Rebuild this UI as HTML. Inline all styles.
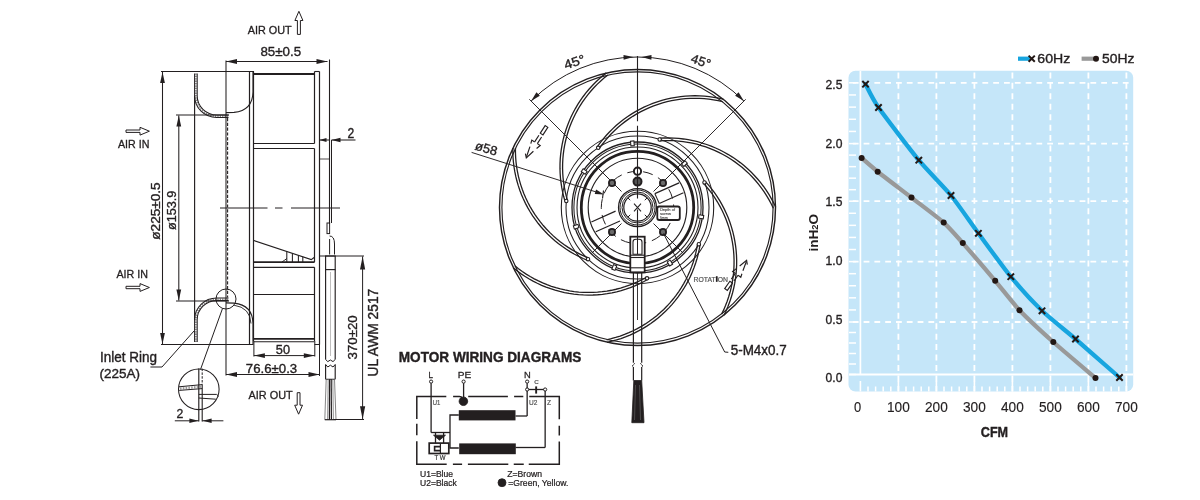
<!DOCTYPE html>
<html><head><meta charset="utf-8"><style>
html,body{margin:0;padding:0;background:#fff;width:1200px;height:500px;overflow:hidden;}
svg{display:block;font-family:"Liberation Sans",sans-serif;will-change:transform;}
</style></head><body>
<svg width="1200" height="500" viewBox="0 0 1200 500">
<rect width="1200" height="500" fill="#fff"/>
<text x="247.7" y="34" font-size="11.4" font-weight="normal" fill="#231f20" stroke="#231f20" stroke-width="0.32" text-anchor="start" textLength="44" lengthAdjust="spacingAndGlyphs" >AIR OUT</text>
<path d="M297.4,34.4 L297.4,20.5 L294.9,20.5 L298.9,11.3 L302.9,20.5 L300.4,20.5 L300.4,34.4 Z" stroke="#231f20" stroke-width="1.0" fill="#fff" />
<text x="260.4" y="56.3" font-size="12.6" font-weight="normal" fill="#231f20" stroke="#231f20" stroke-width="0.35" text-anchor="start" textLength="40.7" lengthAdjust="spacingAndGlyphs" >85±0.5</text>
<line x1="226" y1="61.5" x2="327.5" y2="61.5" stroke="#231f20" stroke-width="1.0" />
<path d="M226,61.5 L237,59.1 L237,63.9 Z" fill="#231f20" stroke="none"/>
<path d="M327.5,61.5 L316.5,63.9 L316.5,59.1 Z" fill="#231f20" stroke="none"/>
<line x1="226" y1="60.5" x2="226" y2="375.5" stroke="#231f20" stroke-width="1.05" />
<line x1="329.5" y1="59.5" x2="329.5" y2="224" stroke="#231f20" stroke-width="1.1" />
<line x1="161" y1="71.5" x2="254" y2="71.5" stroke="#231f20" stroke-width="1.15" />
<line x1="162.5" y1="72" x2="162.5" y2="344" stroke="#231f20" stroke-width="1.05" />
<path d="M162.5,72 L164.9,83 L160.1,83 Z" fill="#231f20" stroke="none"/>
<path d="M162.5,344 L160.1,333 L164.9,333 Z" fill="#231f20" stroke="none"/>
<line x1="178.8" y1="115.6" x2="178.8" y2="300.4" stroke="#231f20" stroke-width="1.05" />
<path d="M178.8,115.6 L181.2,126.6 L176.4,126.6 Z" fill="#231f20" stroke="none"/>
<path d="M178.8,300.4 L176.4,289.4 L181.2,289.4 Z" fill="#231f20" stroke="none"/>
<line x1="176" y1="115" x2="229" y2="115" stroke="#231f20" stroke-width="1.05" />
<line x1="176" y1="301" x2="229" y2="301" stroke="#231f20" stroke-width="1.05" />
<path d="M161,344.5 L253.5,344.5 M314.5,344.5 L319.5,344.5" stroke="#231f20" stroke-width="1.2" fill="none" />
<text transform="translate(160.3,239.7) rotate(-90)" font-size="12.2" font-weight="normal" fill="#231f20" stroke="#231f20" stroke-width="0.34" textLength="57.4" lengthAdjust="spacingAndGlyphs">ø225±0.5</text>
<text transform="translate(175.5,230) rotate(-90)" font-size="12.2" font-weight="normal" fill="#231f20" stroke="#231f20" stroke-width="0.34" textLength="39.4" lengthAdjust="spacingAndGlyphs">ø153.9</text>
<line x1="194.6" y1="96" x2="194.6" y2="320" stroke="#231f20" stroke-width="1.15" />
<path d="M194.6,73.4 L194.6,96 A22,21.5 0 0 0 216.6,117.5 L228.5,117.5" stroke="#231f20" stroke-width="1.05" fill="none" />
<path d="M197.2,73.4 L197.2,95.7 A19.6,19.2 0 0 0 216.8,114.9 L228.5,114.9" stroke="#231f20" stroke-width="1.05" fill="none" />
<path d="M195.9,73.4 L195.9,95.9 A20.8,20.3 0 0 0 216.7,116.2 L228.5,116.2" stroke="#231f20" stroke-width="1.7" fill="none" stroke-dasharray="1.3 1.1" opacity="0.55"/>
<path d="M194.6,342.1 L194.6,319.5 A22,21.5 0 0 1 216.6,298 L228.5,298" stroke="#231f20" stroke-width="1.05" fill="none" />
<path d="M197.2,342.1 L197.2,319.8 A19.6,19.2 0 0 1 216.8,300.6 L228.5,300.6" stroke="#231f20" stroke-width="1.05" fill="none" />
<path d="M195.9,342.1 L195.9,319.6 A20.8,20.3 0 0 1 216.7,299.3 L228.5,299.3" stroke="#231f20" stroke-width="1.7" fill="none" stroke-dasharray="1.3 1.1" opacity="0.55"/>
<line x1="227.6" y1="118" x2="227.6" y2="297.5" stroke="#231f20" stroke-width="1.1" stroke-dasharray="3.2 1.6"/>
<path d="M226,112.6 L234,112.4 Q252.6,110.5 253,92 L253,71" stroke="#231f20" stroke-width="1.1" fill="none" />
<path d="M226,302.9 L234,303.1 Q252.6,305 253,323.5 L253,344" stroke="#231f20" stroke-width="1.1" fill="none" />
<path d="M234,305.2 Q250.2,307.5 251,323.5" stroke="#231f20" stroke-width="0.9" fill="none" />
<line x1="249.5" y1="71.5" x2="249.5" y2="344.5" stroke="#231f20" stroke-width="1.2" />
<line x1="253.5" y1="71.5" x2="253.5" y2="341" stroke="#231f20" stroke-width="1.2" />
<path d="M314.5,71.5 L314.5,143.5 M314.5,148.5 L314.5,262.2 M314.5,267.3 L314.5,341" stroke="#231f20" stroke-width="1.2" fill="none" />
<line x1="319.5" y1="71.5" x2="319.5" y2="344.5" stroke="#231f20" stroke-width="1.2" />
<line x1="314.5" y1="71.5" x2="319.5" y2="71.5" stroke="#231f20" stroke-width="1.1" />
<line x1="253.5" y1="74" x2="314.5" y2="74" stroke="#231f20" stroke-width="1.9" />
<line x1="253.5" y1="338.8" x2="314.5" y2="338.8" stroke="#231f20" stroke-width="1.8" />
<line x1="253.5" y1="341.8" x2="314.5" y2="341.8" stroke="#231f20" stroke-width="1.1" />
<line x1="253.5" y1="143.5" x2="314.5" y2="143.5" stroke="#231f20" stroke-width="1.15" />
<line x1="253.5" y1="148.5" x2="314.5" y2="148.5" stroke="#231f20" stroke-width="1.15" />
<line x1="253.5" y1="262.2" x2="314.5" y2="262.2" stroke="#231f20" stroke-width="1.7" />
<line x1="253.5" y1="267.3" x2="314.5" y2="267.3" stroke="#231f20" stroke-width="1.15" />
<line x1="253.5" y1="294.5" x2="314.5" y2="294.5" stroke="#231f20" stroke-width="1.1" />
<path d="M253.5,240.4 L311.2,259.6 L314.5,257.2" stroke="#231f20" stroke-width="1.15" fill="none" />
<line x1="286.8" y1="251.48" x2="286.8" y2="262" stroke="#231f20" stroke-width="1.05" />
<line x1="292.4" y1="253.34" x2="292.4" y2="262" stroke="#231f20" stroke-width="1.05" />
<line x1="298.4" y1="255.34" x2="298.4" y2="262" stroke="#231f20" stroke-width="1.05" />
<line x1="302.8" y1="256.8" x2="302.8" y2="262" stroke="#231f20" stroke-width="1.05" />
<path d="M282,262 Q285,260 286.8,258.5" stroke="#231f20" stroke-width="1.0" fill="none" />
<line x1="220" y1="208" x2="340" y2="208" stroke="#231f20" stroke-width="1.0" stroke-dasharray="47.5 7.5 7.5 8.5 60"/>
<line x1="331.5" y1="140" x2="331.5" y2="223" stroke="#231f20" stroke-width="1.0" />
<line x1="319.3" y1="159" x2="329.5" y2="159" stroke="#231f20" stroke-width="0.8" />
<rect x="327" y="223" width="2.6" height="10.6" stroke="#231f20" stroke-width="1.0" fill="none" />
<path d="M329.6,236 Q334.5,236 334.5,244 L334.5,254.5 M329.6,239 L329.6,254.5" stroke="#231f20" stroke-width="1.0" fill="none" />
<text x="347.5" y="137.75" font-size="14.2" font-weight="normal" fill="#231f20" stroke="#231f20" stroke-width="0.40" text-anchor="start" textLength="6.75" lengthAdjust="spacingAndGlyphs" >2</text>
<line x1="319" y1="140" x2="329.5" y2="140" stroke="#231f20" stroke-width="1.0" />
<path d="M319.5,140 L326.5,138 L326.5,142 Z" fill="#231f20" stroke="none"/>
<line x1="331.5" y1="140" x2="355.5" y2="140" stroke="#231f20" stroke-width="1.05" />
<path d="M331.5,140 L340.5,137.7 L340.5,142.3 Z" fill="#231f20" stroke="none"/>
<rect x="325.6" y="256" width="9.6" height="13.6" stroke="#231f20" stroke-width="1.15" fill="none" />
<line x1="325.6" y1="269.6" x2="325.6" y2="359.5" stroke="#231f20" stroke-width="1.15" />
<line x1="335.2" y1="269.6" x2="335.2" y2="359.5" stroke="#231f20" stroke-width="1.15" />
<line x1="330.4" y1="272" x2="330.4" y2="356" stroke="#231f20" stroke-width="0.6" opacity="0.55"/>
<path d="M325.6,364.5 L325.6,379.2 M335.2,364.5 L335.2,379.2 M325.6,379.2 L335.2,379.2" stroke="#231f20" stroke-width="1.15" fill="none" />
<path d="M325.6,359.5 L327.8,361.6 L330.4,360 L333,361.6 L335.2,359.5 M325.6,364.5 L327.8,367 L330.4,365.2 L333,367 L335.2,364.5" stroke="#231f20" stroke-width="1.0" fill="none" />
<line x1="326.2" y1="379.2" x2="324.8" y2="419.7" stroke="#666" stroke-width="0.8" />
<line x1="328.2" y1="379.2" x2="327.6" y2="419.7" stroke="#777" stroke-width="0.8" />
<line x1="329.6" y1="379.2" x2="329.4" y2="419.7" stroke="#231f20" stroke-width="1.2" />
<line x1="331.2" y1="379.2" x2="331.4" y2="419.7" stroke="#231f20" stroke-width="1.2" />
<line x1="332.8" y1="379.2" x2="333.4" y2="419.7" stroke="#777" stroke-width="0.8" />
<line x1="334.5" y1="379.2" x2="336" y2="419.7" stroke="#666" stroke-width="0.8" />
<path d="M324.8,419.7 L336,419.7" stroke="#231f20" stroke-width="1.2" fill="none" />
<line x1="319.5" y1="256" x2="364" y2="256" stroke="#231f20" stroke-width="1.0" />
<line x1="333.6" y1="419.5" x2="364" y2="419.5" stroke="#231f20" stroke-width="1.0" />
<line x1="362.6" y1="256.4" x2="362.6" y2="419.2" stroke="#231f20" stroke-width="1.0" />
<path d="M362.6,256.4 L365.2,269.4 L360,269.4 Z" fill="#231f20" stroke="none"/>
<path d="M362.6,419.2 L360,406.2 L365.2,406.2 Z" fill="#231f20" stroke="none"/>
<text transform="translate(356.6,359.6) rotate(-90)" font-size="13" font-weight="normal" fill="#231f20" stroke="#231f20" stroke-width="0.36" textLength="44.4" lengthAdjust="spacingAndGlyphs">370±20</text>
<text transform="translate(377.6,376.4) rotate(-90)" font-size="13.8" font-weight="normal" fill="#231f20" stroke="#231f20" stroke-width="0.39" textLength="87.6" lengthAdjust="spacingAndGlyphs">UL AWM 2517</text>
<text x="100" y="361.6" font-size="14" font-weight="normal" fill="#231f20" stroke="#231f20" stroke-width="0.39" text-anchor="start" textLength="57" lengthAdjust="spacingAndGlyphs" >Inlet Ring</text>
<text x="99.5" y="377.8" font-size="13.2" font-weight="normal" fill="#231f20" stroke="#231f20" stroke-width="0.37" text-anchor="start" textLength="40.5" lengthAdjust="spacingAndGlyphs" >(225A)</text>
<path d="M150.4,367 L162,367 L194,331" stroke="#231f20" stroke-width="1.0" fill="none" />
<circle cx="226" cy="299" r="10" stroke="#231f20" stroke-width="1.0" fill="none" />
<line x1="222.5" y1="308.5" x2="200.5" y2="369.5" stroke="#231f20" stroke-width="1.0" />
<circle cx="198.8" cy="389.3" r="20.3" stroke="#231f20" stroke-width="1.05" fill="none" />
<line x1="198.8" y1="368.6" x2="198.8" y2="421.5" stroke="#231f20" stroke-width="1.15" />
<line x1="202.2" y1="368.6" x2="202.2" y2="384.5" stroke="#231f20" stroke-width="1.0" stroke-dasharray="2.5 1.3"/>
<line x1="202.2" y1="384.5" x2="202.2" y2="421.5" stroke="#231f20" stroke-width="1.1" />
<path d="M178.9,386.8 L202.2,384.6 M179.2,390.4 L202.2,388.6" stroke="#231f20" stroke-width="1.0" fill="none" />
<path d="M180,388.6 L202,386.6" stroke="#231f20" stroke-width="2.2" fill="none" stroke-dasharray="1.6 1.2" opacity="0.45"/>
<path d="M198.8,394.4 L216.5,394.4 Q218,395 218.4,396.5 M198.8,398 L215.8,399.2" stroke="#231f20" stroke-width="1.0" fill="none" />
<text x="176.6" y="417.8" font-size="12" font-weight="normal" fill="#231f20" stroke="#231f20" stroke-width="0.34" text-anchor="start" textLength="6.8" lengthAdjust="spacingAndGlyphs" >2</text>
<line x1="174.8" y1="420.8" x2="198.8" y2="420.8" stroke="#231f20" stroke-width="1.0" />
<path d="M198.4,420.8 L189.4,423 L189.4,418.6 Z" fill="#231f20" stroke="none"/>
<line x1="202.2" y1="420.8" x2="223.4" y2="420.8" stroke="#231f20" stroke-width="1.0" />
<path d="M202.6,420.8 L211.6,418.6 L211.6,423 Z" fill="#231f20" stroke="none"/>
<text x="117.9" y="147.6" font-size="11.2" font-weight="normal" fill="#231f20" stroke="#231f20" stroke-width="0.31" text-anchor="start" textLength="31.5" lengthAdjust="spacingAndGlyphs" >AIR IN</text>
<path d="M126,130 L140,130 L140,127.3 L149.4,131.2 L140,135.1 L140,132.4 L126,132.4 Z" stroke="#231f20" stroke-width="1.0" fill="#fff" />
<text x="116.4" y="277.6" font-size="11.2" font-weight="normal" fill="#231f20" stroke="#231f20" stroke-width="0.31" text-anchor="start" textLength="31.5" lengthAdjust="spacingAndGlyphs" >AIR IN</text>
<path d="M126,286.3 L140,286.3 L140,283.6 L149.4,287.5 L140,291.4 L140,288.7 L126,288.7 Z" stroke="#231f20" stroke-width="1.0" fill="#fff" />
<text x="248.5" y="398.8" font-size="10.8" font-weight="normal" fill="#231f20" stroke="#231f20" stroke-width="0.30" text-anchor="start" textLength="44.2" lengthAdjust="spacingAndGlyphs" >AIR OUT</text>
<path d="M297.2,392.7 L297.2,405.2 L294.7,405.2 L298.6,414.2 L302.5,405.2 L300,405.2 L300,392.7 Z" stroke="#231f20" stroke-width="1.0" fill="#fff" />
<text x="275.8" y="353.6" font-size="12" font-weight="normal" fill="#231f20" stroke="#231f20" stroke-width="0.34" text-anchor="start" textLength="14.2" lengthAdjust="spacingAndGlyphs" >50</text>
<line x1="253.9" y1="355.6" x2="314.8" y2="355.6" stroke="#231f20" stroke-width="1.0" />
<path d="M253.9,355.6 L264.9,353.2 L264.9,358 Z" fill="#231f20" stroke="none"/>
<path d="M314.8,355.6 L303.8,358 L303.8,353.2 Z" fill="#231f20" stroke="none"/>
<line x1="253.9" y1="341" x2="253.9" y2="356.5" stroke="#231f20" stroke-width="1.0" />
<line x1="314.8" y1="341" x2="314.8" y2="356.5" stroke="#231f20" stroke-width="1.0" />
<text x="245.8" y="372.5" font-size="12.8" font-weight="normal" fill="#231f20" stroke="#231f20" stroke-width="0.36" text-anchor="start" textLength="51.4" lengthAdjust="spacingAndGlyphs" >76.6±0.3</text>
<line x1="226" y1="374.5" x2="319.5" y2="374.5" stroke="#231f20" stroke-width="1.0" />
<path d="M226,374.5 L237,372.1 L237,376.9 Z" fill="#231f20" stroke="none"/>
<path d="M319.5,374.5 L308.5,376.9 L308.5,372.1 Z" fill="#231f20" stroke="none"/>
<line x1="319.5" y1="344" x2="319.5" y2="376" stroke="#231f20" stroke-width="1.0" />
<circle cx="637.5" cy="207.5" r="138" stroke="#231f20" stroke-width="1.45" fill="none" />
<circle cx="637.5" cy="207.5" r="135.6" stroke="#231f20" stroke-width="1.15" fill="none" />
<circle cx="637.5" cy="207.5" r="76.2" stroke="#231f20" stroke-width="1.1" fill="none" />
<circle cx="637.5" cy="207.5" r="71.5" stroke="#231f20" stroke-width="1.05" fill="none" />
<circle cx="637.5" cy="207.5" r="65.5" stroke="#231f20" stroke-width="1.3" fill="none" />
<circle cx="637.5" cy="207.5" r="63.6" stroke="#231f20" stroke-width="1.05" fill="none" />
<circle cx="637.5" cy="207.5" r="60.5" stroke="#231f20" stroke-width="1.1" fill="none" />
<circle cx="637.5" cy="207.5" r="49.3" stroke="#231f20" stroke-width="1.15" fill="none" />
<circle cx="637.5" cy="207.5" r="56.2" stroke="#231f20" stroke-width="2.8" fill="none" />
<circle cx="637.5" cy="207.5" r="36.2" stroke="#231f20" stroke-width="1.0" fill="none" stroke-dasharray="10 6"/>
<circle cx="637.5" cy="207.5" r="19" stroke="#231f20" stroke-width="1.25" fill="none" />
<circle cx="637.5" cy="207.5" r="17.5" stroke="#231f20" stroke-width="1.0" fill="none" />
<circle cx="637.5" cy="207.5" r="15.5" stroke="#231f20" stroke-width="1.0" fill="none" />
<circle cx="637.5" cy="207.5" r="13.7" stroke="#231f20" stroke-width="1.2" fill="none" />
<line x1="644.78" y1="214.78" x2="647.05" y2="217.05" stroke="#231f20" stroke-width="1.0" />
<line x1="630.22" y1="214.78" x2="627.95" y2="217.05" stroke="#231f20" stroke-width="1.0" />
<line x1="630.22" y1="200.22" x2="627.95" y2="197.95" stroke="#231f20" stroke-width="1.0" />
<line x1="644.78" y1="200.22" x2="647.05" y2="197.95" stroke="#231f20" stroke-width="1.0" />
<rect x="699.43" y="214.38" width="3.4" height="4.8" fill="#fff" stroke="#231f20" stroke-width="1.05" transform="rotate(98.3 701.13 216.78)"/>
<rect x="668.21" y="260.63" width="3.4" height="4.8" fill="#fff" stroke="#231f20" stroke-width="1.05" transform="rotate(149.7 669.91 263.03)"/>
<rect x="612.59" y="265.07" width="3.4" height="4.8" fill="#fff" stroke="#231f20" stroke-width="1.05" transform="rotate(201.2 614.29 267.47)"/>
<rect x="574.45" y="224.34" width="3.4" height="4.8" fill="#fff" stroke="#231f20" stroke-width="1.05" transform="rotate(252.6 576.15 226.74)"/>
<rect x="582.5" y="169.13" width="3.4" height="4.8" fill="#fff" stroke="#231f20" stroke-width="1.05" transform="rotate(304.0 584.2 171.53)"/>
<rect x="630.69" y="141" width="3.4" height="4.8" fill="#fff" stroke="#231f20" stroke-width="1.05" transform="rotate(355.4 632.39 143.4)"/>
<rect x="682.73" y="161.14" width="3.4" height="4.8" fill="#fff" stroke="#231f20" stroke-width="1.05" transform="rotate(406.9 684.43 163.54)"/>
<path d="M567.54,200.64 L566.27,196.14 L565.19,191.58 L564.3,186.99 L563.58,182.36 L563.06,177.71 L562.72,173.04 L562.58,168.36 L562.62,163.68 L562.85,159.01 L563.26,154.34 L563.87,149.7 L564.66,145.09 L565.64,140.51 L566.8,135.97 L568.14,131.49 L569.66,127.06 L571.36,122.7 L573.23,118.41 L575.28,114.2 L577.49,110.08 L579.87,106.04 L582.4,102.11 L585.1,98.28 L587.95,94.56 L590.94,90.97 L594.07,87.49 L597.35,84.14 L600.75,80.93 L604.29,77.86 L607.94,74.94" stroke="#231f20" stroke-width="1.3" fill="none" />
<path d="M565.05,201.4 L563.76,196.79 L562.65,192.13 L561.73,187.43 L561.01,182.7 L560.47,177.95 L560.13,173.18 L559.98,168.39 L560.02,163.61 L560.25,158.83 L560.68,154.06 L561.3,149.31 L562.11,144.6 L563.1,139.92 L564.29,135.28 L565.66,130.69 L567.22,126.17 L568.96,121.71 L570.87,117.32 L572.96,113.02 L575.22,108.8 L577.65,104.68 L580.25,100.66 L583,96.74 L585.91,92.94 L588.97,89.26 L592.18,85.71 L595.53,82.29 L599.01,79.01 L602.62,75.87 L606.36,72.87" stroke="#231f20" stroke-width="1.3" fill="none" />
<circle cx="566.29" cy="201.02" r="1.7" stroke="#231f20" stroke-width="1.1" fill="#fff" />
<path d="M599.24,148.53 L601.98,144.73 L604.86,141.04 L607.9,137.48 L611.07,134.04 L614.38,130.73 L617.82,127.55 L621.39,124.52 L625.07,121.63 L628.87,118.9 L632.77,116.32 L636.78,113.9 L640.88,111.64 L645.07,109.55 L649.34,107.63 L653.68,105.88 L658.09,104.31 L662.56,102.92 L667.08,101.71 L671.65,100.68 L676.25,99.84 L680.89,99.18 L685.55,98.71 L690.22,98.43 L694.9,98.34 L699.58,98.44 L704.25,98.72 L708.91,99.2 L713.54,99.86 L718.15,100.7 L722.71,101.74" stroke="#231f20" stroke-width="1.3" fill="none" />
<path d="M597.1,147.05 L599.9,143.17 L602.85,139.4 L605.95,135.75 L609.19,132.24 L612.58,128.85 L616.1,125.61 L619.74,122.51 L623.51,119.55 L627.39,116.76 L631.38,114.12 L635.48,111.64 L639.67,109.34 L643.95,107.2 L648.32,105.23 L652.76,103.45 L657.27,101.84 L661.84,100.42 L666.46,99.18 L671.13,98.13 L675.84,97.27 L680.58,96.6 L685.34,96.12 L690.12,95.84 L694.9,95.74 L699.69,95.84 L704.46,96.13 L709.22,96.62 L713.96,97.29 L718.67,98.16 L723.34,99.21" stroke="#231f20" stroke-width="1.3" fill="none" />
<circle cx="598.17" cy="147.79" r="1.7" stroke="#231f20" stroke-width="1.1" fill="#fff" />
<path d="M659.75,140.82 L664.43,140.59 L669.11,140.55 L673.79,140.7 L678.46,141.03 L683.11,141.56 L687.73,142.27 L692.33,143.16 L696.88,144.24 L701.39,145.51 L705.84,146.95 L710.23,148.58 L714.56,150.37 L718.8,152.34 L722.97,154.49 L727.04,156.79 L731.02,159.26 L734.89,161.89 L738.66,164.67 L742.31,167.6 L745.84,170.67 L749.24,173.89 L752.51,177.24 L755.64,180.72 L758.63,184.32 L761.47,188.04 L764.16,191.87 L766.7,195.8 L769.07,199.84 L771.28,203.97 L773.32,208.18" stroke="#231f20" stroke-width="1.3" fill="none" />
<path d="M659.57,138.22 L664.35,137.99 L669.14,137.95 L673.92,138.1 L678.7,138.44 L683.45,138.98 L688.18,139.71 L692.88,140.62 L697.54,141.73 L702.14,143.02 L706.7,144.5 L711.18,146.16 L715.6,147.99 L719.94,150.01 L724.2,152.2 L728.36,154.56 L732.43,157.08 L736.39,159.77 L740.24,162.61 L743.97,165.6 L747.58,168.75 L751.06,172.04 L754.4,175.46 L757.61,179.02 L760.66,182.7 L763.57,186.5 L766.32,190.42 L768.91,194.44 L771.34,198.57 L773.6,202.79 L775.68,207.09" stroke="#231f20" stroke-width="1.3" fill="none" />
<circle cx="659.66" cy="139.52" r="1.7" stroke="#231f20" stroke-width="1.1" fill="#fff" />
<path d="M703.51,183.32 L706.6,186.83 L709.55,190.47 L712.35,194.22 L715,198.08 L717.49,202.04 L719.82,206.1 L721.99,210.25 L723.98,214.49 L725.8,218.8 L727.45,223.18 L728.92,227.63 L730.21,232.13 L731.31,236.68 L732.24,241.27 L732.97,245.89 L733.52,250.54 L733.88,255.2 L734.06,259.88 L734.04,264.56 L733.84,269.24 L733.45,273.9 L732.87,278.55 L732.1,283.17 L731.15,287.75 L730.01,292.29 L728.69,296.78 L727.2,301.22 L725.52,305.59 L723.67,309.89 L721.65,314.11" stroke="#231f20" stroke-width="1.3" fill="none" />
<path d="M705.42,181.56 L708.59,185.16 L711.6,188.87 L714.47,192.7 L717.18,196.65 L719.72,200.7 L722.1,204.86 L724.32,209.1 L726.35,213.43 L728.22,217.84 L729.9,222.32 L731.4,226.86 L732.72,231.46 L733.85,236.11 L734.79,240.8 L735.55,245.53 L736.11,250.28 L736.48,255.05 L736.66,259.84 L736.64,264.62 L736.43,269.4 L736.03,274.17 L735.44,278.92 L734.66,283.64 L733.68,288.33 L732.52,292.97 L731.17,297.57 L729.64,302.1 L727.93,306.57 L726.04,310.96 L723.97,315.28" stroke="#231f20" stroke-width="1.3" fill="none" />
<circle cx="704.47" cy="182.44" r="1.7" stroke="#231f20" stroke-width="1.1" fill="#fff" />
<path d="M697.56,244.03 L696.74,248.64 L695.74,253.21 L694.55,257.74 L693.19,262.22 L691.64,266.64 L689.92,270.99 L688.02,275.27 L685.96,279.47 L683.72,283.58 L681.32,287.6 L678.76,291.52 L676.05,295.34 L673.18,299.04 L670.17,302.62 L667.01,306.08 L663.72,309.41 L660.3,312.6 L656.75,315.65 L653.08,318.56 L649.3,321.31 L645.4,323.92 L641.41,326.36 L637.32,328.64 L633.15,330.75 L628.89,332.7 L624.55,334.47 L620.15,336.06 L615.69,337.48 L611.18,338.71 L606.61,339.76" stroke="#231f20" stroke-width="1.3" fill="none" />
<path d="M700.13,244.43 L699.29,249.15 L698.27,253.82 L697.06,258.45 L695.66,263.03 L694.08,267.55 L692.32,272 L690.38,276.37 L688.26,280.67 L685.98,284.87 L683.53,288.98 L680.91,292.99 L678.13,296.89 L675.2,300.67 L672.12,304.33 L668.9,307.87 L665.53,311.27 L662.03,314.53 L658.4,317.66 L654.65,320.63 L650.78,323.45 L646.81,326.11 L642.72,328.6 L638.54,330.93 L634.27,333.1 L629.92,335.08 L625.49,336.89 L620.99,338.52 L616.43,339.97 L611.81,341.23 L607.15,342.31" stroke="#231f20" stroke-width="1.3" fill="none" />
<circle cx="698.84" cy="244.23" r="1.7" stroke="#231f20" stroke-width="1.1" fill="#fff" />
<path d="M646.38,277.23 L642.27,279.47 L638.07,281.54 L633.79,283.43 L629.44,285.16 L625.02,286.7 L620.54,288.07 L616.02,289.25 L611.44,290.26 L606.83,291.07 L602.19,291.7 L597.53,292.15 L592.86,292.4 L588.18,292.47 L583.5,292.35 L578.83,292.04 L574.18,291.54 L569.55,290.85 L564.95,289.98 L560.39,288.92 L555.87,287.68 L551.41,286.26 L547.01,284.67 L542.68,282.89 L538.42,280.94 L534.25,278.83 L530.16,276.54 L526.17,274.09 L522.28,271.49 L518.5,268.73 L514.84,265.82" stroke="#231f20" stroke-width="1.3" fill="none" />
<path d="M647.67,279.49 L643.47,281.78 L639.17,283.89 L634.8,285.83 L630.35,287.59 L625.83,289.17 L621.25,290.57 L616.62,291.78 L611.95,292.81 L607.24,293.64 L602.49,294.29 L597.73,294.74 L592.95,295 L588.16,295.07 L583.38,294.94 L578.61,294.63 L573.85,294.12 L569.11,293.42 L564.41,292.52 L559.75,291.44 L555.13,290.18 L550.57,288.73 L546.07,287.09 L541.65,285.28 L537.29,283.28 L533.03,281.12 L528.85,278.78 L524.77,276.28 L520.79,273.62 L516.93,270.8 L513.18,267.82" stroke="#231f20" stroke-width="1.3" fill="none" />
<circle cx="647.03" cy="278.36" r="1.7" stroke="#231f20" stroke-width="1.1" fill="#fff" />
<path d="M588.52,257.92 L584.21,256.1 L579.97,254.11 L575.82,251.94 L571.76,249.62 L567.8,247.13 L563.94,244.48 L560.19,241.68 L556.55,238.73 L553.04,235.63 L549.65,232.4 L546.4,229.03 L543.29,225.54 L540.32,221.92 L537.5,218.18 L534.83,214.34 L532.31,210.39 L529.96,206.34 L527.78,202.2 L525.76,197.98 L523.91,193.67 L522.24,189.3 L520.75,184.87 L519.44,180.37 L518.31,175.83 L517.36,171.25 L516.6,166.63 L516.02,161.98 L515.64,157.32 L515.44,152.64 L515.43,147.96" stroke="#231f20" stroke-width="1.3" fill="none" />
<path d="M587.56,260.34 L583.15,258.48 L578.82,256.44 L574.57,254.23 L570.42,251.84 L566.37,249.3 L562.42,246.59 L558.59,243.73 L554.87,240.71 L551.28,237.55 L547.82,234.24 L544.5,230.8 L541.31,227.23 L538.28,223.53 L535.39,219.71 L532.66,215.78 L530.09,211.74 L527.69,207.6 L525.45,203.37 L523.39,199.05 L521.51,194.65 L519.8,190.18 L518.27,185.64 L516.93,181.05 L515.77,176.41 L514.8,171.72 L514.02,167 L513.44,162.25 L513.04,157.48 L512.84,152.7 L512.83,147.91" stroke="#231f20" stroke-width="1.3" fill="none" />
<circle cx="588.04" cy="259.13" r="1.7" stroke="#231f20" stroke-width="1.1" fill="#fff" />
<line x1="621.5" y1="191.5" x2="591.5" y2="161.5" stroke="#231f20" stroke-width="0.95" />
<circle cx="612" cy="183" r="3.1" stroke="#231f20" stroke-width="1.8" fill="#6a6a6a" />
<line x1="621.5" y1="223.5" x2="591.5" y2="253.5" stroke="#231f20" stroke-width="0.95" />
<circle cx="612" cy="232" r="3.1" stroke="#231f20" stroke-width="1.8" fill="#6a6a6a" />
<line x1="653.5" y1="191.5" x2="683.5" y2="161.5" stroke="#231f20" stroke-width="0.95" />
<circle cx="663" cy="183" r="3.1" stroke="#231f20" stroke-width="1.8" fill="#6a6a6a" />
<line x1="653.5" y1="223.5" x2="683.5" y2="253.5" stroke="#231f20" stroke-width="0.95" />
<circle cx="663" cy="232" r="3.1" stroke="#231f20" stroke-width="1.8" fill="#6a6a6a" />
<circle cx="637.5" cy="171.2" r="3.6" stroke="#231f20" stroke-width="2.0" fill="#fff" />
<circle cx="637.5" cy="181.6" r="4" stroke="#231f20" stroke-width="2.0" fill="#555" />
<path d="M637.5,56 L637.5,121.3 M637.5,125.8 L637.5,198.4 M637.5,209.6 L637.5,236.7" stroke="#231f20" stroke-width="1.1" fill="none" />
<path d="M634.0,203.7 L641.0,211.3 M641.0,203.7 L634.0,211.3" stroke="#231f20" stroke-width="1.1" fill="none" />
<line x1="654.86" y1="193.64" x2="679.07" y2="182.86" stroke="#231f20" stroke-width="1.15" />
<line x1="659.26" y1="203.51" x2="683.47" y2="192.73" stroke="#231f20" stroke-width="1.15" />
<line x1="591.37" y1="221.91" x2="615.58" y2="211.13" stroke="#231f20" stroke-width="1.15" />
<line x1="595.76" y1="231.77" x2="619.97" y2="221" stroke="#231f20" stroke-width="1.15" />
<line x1="654.86" y1="193.64" x2="659.26" y2="203.51" stroke="#231f20" stroke-width="1.1" />
<rect x="657.3" y="206.5" width="22.5" height="13.5" rx="2" fill="#fff" stroke="#231f20" stroke-width="1.8"/>
<text x="660" y="211.4" font-size="4.2" font-weight="normal" fill="#444" stroke="#444" stroke-width="0.12" text-anchor="start" textLength="15" lengthAdjust="spacingAndGlyphs" >Depth of</text>
<text x="660" y="215.2" font-size="4.2" font-weight="normal" fill="#444" stroke="#444" stroke-width="0.12" text-anchor="start" textLength="11" lengthAdjust="spacingAndGlyphs" >screw</text>
<text x="660" y="219" font-size="4.2" font-weight="normal" fill="#444" stroke="#444" stroke-width="0.12" text-anchor="start" textLength="8" lengthAdjust="spacingAndGlyphs" >5mm</text>
<line x1="609.22" y1="179.22" x2="529.31" y2="99.31" stroke="#231f20" stroke-width="0.95" />
<line x1="665.78" y1="179.22" x2="745.69" y2="99.31" stroke="#231f20" stroke-width="0.95" />
<path d="M531.08,101.08 A150.5,150.5 0 0 1 743.92,101.08" stroke="#231f20" stroke-width="1.0" fill="none" />
<path d="M531.08,101.08 L536.45,92.31 L539.85,95.71 Z" fill="#231f20" stroke="none"/>
<path d="M743.92,101.08 L735.15,95.71 L738.55,92.31 Z" fill="#231f20" stroke="none"/>
<path d="M633.56,57.05 L623.63,59.71 L623.5,54.91 Z" fill="#231f20" stroke="none"/>
<path d="M641.44,57.05 L651.5,54.91 L651.37,59.71 Z" fill="#231f20" stroke="none"/>
<text transform="translate(565.8,69.6) rotate(-19)" font-size="12.8" font-weight="normal" fill="#231f20" stroke="#231f20" stroke-width="0.36" textLength="21.5" lengthAdjust="spacingAndGlyphs">45°</text>
<text transform="translate(690,62) rotate(19)" font-size="12.8" font-weight="normal" fill="#231f20" stroke="#231f20" stroke-width="0.36" textLength="20" lengthAdjust="spacingAndGlyphs">45°</text>
<text transform="translate(474.2,149.6) rotate(15.5)" font-size="12.8" font-weight="normal" fill="#231f20" stroke="#231f20" stroke-width="0.36" textLength="22.5" lengthAdjust="spacingAndGlyphs">ø58</text>
<line x1="471.6" y1="152.4" x2="600" y2="193.2" stroke="#231f20" stroke-width="0.95" />
<path d="M604,194.5 L594.72,193.99 L596.11,189.6 Z" fill="#231f20" stroke="none"/>
<line x1="603.5" y1="190.5" x2="602.5" y2="198.5" stroke="#231f20" stroke-width="1.1" />
<path d="M547.84,127.37 L545.16,125.63 L540.28,133.19 L542.96,134.93 Z" stroke="#231f20" stroke-width="1.15" fill="none" />
<path d="M541.61,137.03 L537.34,143.64 M538.92,135.29 L534.65,141.91" stroke="#231f20" stroke-width="1.15" fill="none" />
<path d="M534.65,141.91 L531.79,140.06 L530.82,143.6 M529.95,146.61 L526.51,156.74" stroke="#231f20" stroke-width="1.15" fill="none" />
<path d="M537.34,143.64 L540.2,145.49 L536.58,148.51 M533.4,151.22 L526.3,157.8 L525.41,153.65" stroke="#231f20" stroke-width="1.15" fill="none" />
<path d="M724.69,288.58 L727.31,290.42 L732.51,283.08 L729.89,281.23 Z" stroke="#231f20" stroke-width="1.15" fill="none" />
<path d="M731.34,279.19 L735.41,273.44 M733.95,281.04 L738.02,275.29" stroke="#231f20" stroke-width="1.15" fill="none" />
<path d="M738.02,275.29 L740.79,277.26 L741.92,273.76 M742.92,270.8 L746.35,261.45" stroke="#231f20" stroke-width="1.15" fill="none" />
<path d="M735.41,273.44 L732.63,271.48 L736.37,268.62 M739.66,266.04 L746.6,260.4 L747.32,264.58" stroke="#231f20" stroke-width="1.15" fill="none" />
<rect x="630.3" y="236.7" width="14.4" height="35.6" stroke="#231f20" stroke-width="1.8" fill="#fff" />
<path d="M633,254.3 L633,242 Q633,239.3 636,239.3 L639,239.3 Q642,239.3 642,242 L642,254.3 Z" stroke="#231f20" stroke-width="1.1" fill="none" />
<line x1="630.3" y1="255.2" x2="644.7" y2="255.2" stroke="#231f20" stroke-width="1.1" />
<line x1="630.3" y1="257.5" x2="644.7" y2="257.5" stroke="#231f20" stroke-width="1.1" />
<line x1="630.3" y1="267.8" x2="644.7" y2="267.8" stroke="#231f20" stroke-width="1.1" />
<line x1="633.4" y1="272.3" x2="633.4" y2="362.5" stroke="#231f20" stroke-width="1.2" />
<line x1="641.7" y1="272.3" x2="641.7" y2="362.5" stroke="#231f20" stroke-width="1.2" />
<line x1="637.5" y1="236.7" x2="637.5" y2="254.3" stroke="#231f20" stroke-width="1.0" />
<line x1="637.5" y1="272.3" x2="637.5" y2="320" stroke="#231f20" stroke-width="0.9" />
<path d="M633.4,362.5 q2.3,1.2 0,2.3 q-2.3,1.2 0,2.3 M641.7,362.5 q-2.3,1.2 0,2.3 q2.3,1.2 0,2.3" stroke="#231f20" stroke-width="0.9" fill="none" />
<path d="M633.4,367 L633.4,380.5 M641.7,367 L641.7,380.5" stroke="#231f20" stroke-width="1.2" fill="none" />
<path d="M633.8,380.5 L641.7,380.5 L644,422.7 L631.8,422.7 Z" stroke="#231f20" stroke-width="0.8" fill="#231f20" />
<path d="M635.5,385 L634.5,420 M639.5,385 L640.5,420" stroke="#777" stroke-width="0.5" fill="none" />
<path d="M663.5,233.5 L724.7,352 L728.3,352.3" stroke="#231f20" stroke-width="1.0" fill="none" />
<text x="730.7" y="355" font-size="14" font-weight="normal" fill="#231f20" stroke="#231f20" stroke-width="0.39" text-anchor="start" textLength="56" lengthAdjust="spacingAndGlyphs" >5-M4x0.7</text>
<text x="693.6" y="281.5" font-size="7.4" font-weight="normal" fill="#555" stroke="#555" stroke-width="0.21" text-anchor="start" textLength="34.3" lengthAdjust="spacingAndGlyphs" >ROTATION</text>
<rect x="715.9" y="276.2" width="1.7" height="5.5" stroke="#231f20" stroke-width="0" fill="#231f20" />
<text x="398.8" y="361.5" font-size="14.2" font-weight="bold" fill="#231f20" stroke="#231f20" stroke-width="0.40" text-anchor="start" textLength="182.5" lengthAdjust="spacingAndGlyphs" >MOTOR WIRING DIAGRAMS</text>
<path d="M416.8,419 L416.8,396.5 L446.3,396.5 M453.1,396.5 L459.5,396.5 Q461.5,396.5 462,398 M468.2,396.5 L507.9,396.5 M514.1,396.5 L523.3,396.5 M529.25,396.5 L559.3,396.5 L559.3,419.3 M559.3,425.8 L559.3,435.5 M559.3,441.4 L559.3,464.3 L528.75,464.3 M523.75,464.3 L513.75,464.3 M508.3,464.3 L467.9,464.3 M462.1,464.3 L452.9,464.3 M446.7,464.3 L416.8,464.3 L416.8,441.2 M416.8,435.2 L416.8,423.8" stroke="#231f20" stroke-width="1.5" fill="none" />
<text x="428.5" y="377.6" font-size="9.7" font-weight="normal" fill="#231f20" stroke="#231f20" stroke-width="0.27" text-anchor="start" textLength="4.5" lengthAdjust="spacingAndGlyphs" >L</text>
<text x="457.75" y="377.6" font-size="9.7" font-weight="normal" fill="#231f20" stroke="#231f20" stroke-width="0.27" text-anchor="start" textLength="13.5" lengthAdjust="spacingAndGlyphs" >PE</text>
<text x="524" y="377.6" font-size="9.7" font-weight="normal" fill="#231f20" stroke="#231f20" stroke-width="0.27" text-anchor="start" textLength="6.75" lengthAdjust="spacingAndGlyphs" >N</text>
<circle cx="431.1" cy="381.6" r="1.6" stroke="#231f20" stroke-width="1.0" fill="#fff" />
<circle cx="463.6" cy="381.6" r="1.6" stroke="#231f20" stroke-width="1.0" fill="#fff" />
<circle cx="527.15" cy="381.6" r="1.6" stroke="#231f20" stroke-width="1.0" fill="#fff" />
<line x1="431.1" y1="383.2" x2="431.1" y2="432.5" stroke="#231f20" stroke-width="1.3" />
<line x1="431.1" y1="432.5" x2="450" y2="432.5" stroke="#231f20" stroke-width="1.3" />
<line x1="463.6" y1="383.2" x2="463.6" y2="397" stroke="#231f20" stroke-width="1.3" />
<circle cx="463.4" cy="401.25" r="4.3" stroke="#231f20" stroke-width="0.8" fill="#231f20" />
<rect x="458.8" y="410.2" width="56.7" height="10.2" stroke="#231f20" stroke-width="0" fill="#231f20" />
<rect x="459.2" y="443.4" width="56.6" height="10.8" stroke="#231f20" stroke-width="0" fill="#231f20" />
<path d="M458.8,415 L450,415 L450,448 L458.8,448" stroke="#231f20" stroke-width="1.3" fill="none" />
<line x1="435.5" y1="432.4" x2="435.5" y2="443.1" stroke="#231f20" stroke-width="1.3" />
<line x1="443.6" y1="432.4" x2="443.6" y2="443.1" stroke="#231f20" stroke-width="1.3" />
<path d="M433.5,435.2 L445.5,435.2 L439.5,440.2 Z" stroke="#231f20" stroke-width="0.8" fill="#231f20" />
<rect x="429.2" y="443.1" width="19.6" height="10.4" stroke="#231f20" stroke-width="1.7" fill="#fff" />
<path d="M440.2,446.6 L434.6,446.6 L434.6,450.6 L440.2,450.6" stroke="#231f20" stroke-width="1.6" fill="none" />
<line x1="440.4" y1="443.5" x2="440.4" y2="453" stroke="#231f20" stroke-width="1.2" />
<text x="434.4" y="459.8" font-size="7" font-weight="normal" fill="#333" stroke="#333" stroke-width="0.20" text-anchor="start" textLength="11" lengthAdjust="spacingAndGlyphs" >T W</text>
<text x="432.75" y="404.6" font-size="7.4" font-weight="normal" fill="#555" stroke="#555" stroke-width="0.21" text-anchor="start" textLength="7.6" lengthAdjust="spacingAndGlyphs" >U1</text>
<text x="529" y="404.8" font-size="7.4" font-weight="normal" fill="#555" stroke="#555" stroke-width="0.21" text-anchor="start" textLength="8.4" lengthAdjust="spacingAndGlyphs" >U2</text>
<text x="547.1" y="404.8" font-size="7.4" font-weight="normal" fill="#555" stroke="#555" stroke-width="0.21" text-anchor="start" textLength="4.1" lengthAdjust="spacingAndGlyphs" >Z</text>
<text x="534.35" y="384.4" font-size="6.2" font-weight="normal" fill="#444" stroke="#444" stroke-width="0.17" text-anchor="start" textLength="4.5" lengthAdjust="spacingAndGlyphs" >C</text>
<line x1="527.15" y1="383.2" x2="527.15" y2="416" stroke="#231f20" stroke-width="1.3" />
<line x1="527.15" y1="416" x2="515.5" y2="416" stroke="#231f20" stroke-width="1.3" />
<line x1="527.15" y1="389.5" x2="545.15" y2="389.5" stroke="#231f20" stroke-width="1.3" />
<rect x="535.2" y="386.4" width="1.9" height="7.2" stroke="#231f20" stroke-width="0" fill="#231f20" />
<circle cx="527.15" cy="389.5" r="1.6" stroke="#231f20" stroke-width="1.0" fill="#fff" />
<circle cx="545.15" cy="389.5" r="1.6" stroke="#231f20" stroke-width="1.0" fill="#fff" />
<line x1="545.15" y1="391.1" x2="545.15" y2="447.5" stroke="#231f20" stroke-width="1.3" />
<line x1="545.15" y1="447.5" x2="515.5" y2="447.5" stroke="#231f20" stroke-width="1.3" />
<text x="420" y="476.75" font-size="8.3" font-weight="normal" fill="#231f20" stroke="#231f20" stroke-width="0.23" text-anchor="start" textLength="33" lengthAdjust="spacingAndGlyphs" >U1=Blue</text>
<text x="420" y="486" font-size="8.3" font-weight="normal" fill="#231f20" stroke="#231f20" stroke-width="0.23" text-anchor="start" textLength="36.75" lengthAdjust="spacingAndGlyphs" >U2=Black</text>
<text x="507.3" y="477" font-size="8.3" font-weight="normal" fill="#231f20" stroke="#231f20" stroke-width="0.23" text-anchor="start" textLength="34.7" lengthAdjust="spacingAndGlyphs" >Z=Brown</text>
<circle cx="502" cy="482.7" r="4" stroke="#231f20" stroke-width="0.8" fill="#231f20" />
<text x="508.3" y="486" font-size="8.3" font-weight="normal" fill="#231f20" stroke="#231f20" stroke-width="0.23" text-anchor="start" textLength="60" lengthAdjust="spacingAndGlyphs" >=Green, Yellow.</text>
<rect x="848.5" y="70.7" width="284.7" height="320.8" rx="7" fill="#c5e6f9"/>
<line x1="898.4" y1="72.4" x2="898.4" y2="391.5" stroke="#fff" stroke-width="1.8" stroke-dasharray="6 4.45"/>
<line x1="936.4" y1="72.4" x2="936.4" y2="391.5" stroke="#fff" stroke-width="1.8" stroke-dasharray="6 4.45"/>
<line x1="974.4" y1="72.4" x2="974.4" y2="391.5" stroke="#fff" stroke-width="1.8" stroke-dasharray="6 4.45"/>
<line x1="1012.4" y1="72.4" x2="1012.4" y2="391.5" stroke="#fff" stroke-width="1.8" stroke-dasharray="6 4.45"/>
<line x1="1050.4" y1="72.4" x2="1050.4" y2="391.5" stroke="#fff" stroke-width="1.8" stroke-dasharray="6 4.45"/>
<line x1="1088.4" y1="72.4" x2="1088.4" y2="391.5" stroke="#fff" stroke-width="1.8" stroke-dasharray="6 4.45"/>
<line x1="1126.4" y1="72.4" x2="1126.4" y2="391.5" stroke="#fff" stroke-width="1.8" stroke-dasharray="6 4.45"/>
<line x1="860.4" y1="71" x2="860.4" y2="374.5" stroke="#fff" stroke-width="1.7" />
<line x1="852.8" y1="82.8" x2="1133" y2="82.8" stroke="#fff" stroke-width="1.8" stroke-dasharray="5.8 5"/>
<line x1="852.8" y1="143.6" x2="1133" y2="143.6" stroke="#fff" stroke-width="1.8" stroke-dasharray="5.8 5"/>
<line x1="852.8" y1="201.2" x2="1133" y2="201.2" stroke="#fff" stroke-width="1.8" stroke-dasharray="5.8 5"/>
<line x1="852.8" y1="261.6" x2="1133" y2="261.6" stroke="#fff" stroke-width="1.8" stroke-dasharray="5.8 5"/>
<line x1="852.8" y1="322" x2="1133" y2="322" stroke="#fff" stroke-width="1.8" stroke-dasharray="5.8 5"/>
<line x1="849" y1="374.5" x2="1133" y2="374.5" stroke="#fff" stroke-width="2.0" />
<line x1="849" y1="374.5" x2="856" y2="374.5" stroke="#fff" stroke-width="1.5" />
<line x1="849" y1="364" x2="856" y2="364" stroke="#fff" stroke-width="1.5" />
<line x1="849" y1="353.5" x2="856" y2="353.5" stroke="#fff" stroke-width="1.5" />
<line x1="849" y1="343" x2="856" y2="343" stroke="#fff" stroke-width="1.5" />
<line x1="849" y1="332.5" x2="856" y2="332.5" stroke="#fff" stroke-width="1.5" />
<line x1="849" y1="322" x2="856" y2="322" stroke="#fff" stroke-width="1.5" />
<line x1="849" y1="309.92" x2="856" y2="309.92" stroke="#fff" stroke-width="1.5" />
<line x1="849" y1="297.84" x2="856" y2="297.84" stroke="#fff" stroke-width="1.5" />
<line x1="849" y1="285.76" x2="856" y2="285.76" stroke="#fff" stroke-width="1.5" />
<line x1="849" y1="273.68" x2="856" y2="273.68" stroke="#fff" stroke-width="1.5" />
<line x1="849" y1="261.6" x2="856" y2="261.6" stroke="#fff" stroke-width="1.5" />
<line x1="849" y1="249.52" x2="856" y2="249.52" stroke="#fff" stroke-width="1.5" />
<line x1="849" y1="237.44" x2="856" y2="237.44" stroke="#fff" stroke-width="1.5" />
<line x1="849" y1="225.36" x2="856" y2="225.36" stroke="#fff" stroke-width="1.5" />
<line x1="849" y1="213.28" x2="856" y2="213.28" stroke="#fff" stroke-width="1.5" />
<line x1="849" y1="201.2" x2="856" y2="201.2" stroke="#fff" stroke-width="1.5" />
<line x1="849" y1="189.68" x2="856" y2="189.68" stroke="#fff" stroke-width="1.5" />
<line x1="849" y1="178.16" x2="856" y2="178.16" stroke="#fff" stroke-width="1.5" />
<line x1="849" y1="166.64" x2="856" y2="166.64" stroke="#fff" stroke-width="1.5" />
<line x1="849" y1="155.12" x2="856" y2="155.12" stroke="#fff" stroke-width="1.5" />
<line x1="849" y1="143.6" x2="856" y2="143.6" stroke="#fff" stroke-width="1.5" />
<line x1="849" y1="131.44" x2="856" y2="131.44" stroke="#fff" stroke-width="1.5" />
<line x1="849" y1="119.28" x2="856" y2="119.28" stroke="#fff" stroke-width="1.5" />
<line x1="849" y1="107.12" x2="856" y2="107.12" stroke="#fff" stroke-width="1.5" />
<line x1="849" y1="94.96" x2="856" y2="94.96" stroke="#fff" stroke-width="1.5" />
<line x1="849" y1="82.8" x2="856" y2="82.8" stroke="#fff" stroke-width="1.5" />
<line x1="868" y1="386.5" x2="868" y2="391.5" stroke="#fff" stroke-width="1.5" />
<line x1="875.6" y1="386.5" x2="875.6" y2="391.5" stroke="#fff" stroke-width="1.5" />
<line x1="883.2" y1="386.5" x2="883.2" y2="391.5" stroke="#fff" stroke-width="1.5" />
<line x1="890.8" y1="386.5" x2="890.8" y2="391.5" stroke="#fff" stroke-width="1.5" />
<line x1="906" y1="386.5" x2="906" y2="391.5" stroke="#fff" stroke-width="1.5" />
<line x1="913.6" y1="386.5" x2="913.6" y2="391.5" stroke="#fff" stroke-width="1.5" />
<line x1="921.2" y1="386.5" x2="921.2" y2="391.5" stroke="#fff" stroke-width="1.5" />
<line x1="928.8" y1="386.5" x2="928.8" y2="391.5" stroke="#fff" stroke-width="1.5" />
<line x1="944" y1="386.5" x2="944" y2="391.5" stroke="#fff" stroke-width="1.5" />
<line x1="951.6" y1="386.5" x2="951.6" y2="391.5" stroke="#fff" stroke-width="1.5" />
<line x1="959.2" y1="386.5" x2="959.2" y2="391.5" stroke="#fff" stroke-width="1.5" />
<line x1="966.8" y1="386.5" x2="966.8" y2="391.5" stroke="#fff" stroke-width="1.5" />
<line x1="982" y1="386.5" x2="982" y2="391.5" stroke="#fff" stroke-width="1.5" />
<line x1="989.6" y1="386.5" x2="989.6" y2="391.5" stroke="#fff" stroke-width="1.5" />
<line x1="997.2" y1="386.5" x2="997.2" y2="391.5" stroke="#fff" stroke-width="1.5" />
<line x1="1004.8" y1="386.5" x2="1004.8" y2="391.5" stroke="#fff" stroke-width="1.5" />
<line x1="1020" y1="386.5" x2="1020" y2="391.5" stroke="#fff" stroke-width="1.5" />
<line x1="1027.6" y1="386.5" x2="1027.6" y2="391.5" stroke="#fff" stroke-width="1.5" />
<line x1="1035.2" y1="386.5" x2="1035.2" y2="391.5" stroke="#fff" stroke-width="1.5" />
<line x1="1042.8" y1="386.5" x2="1042.8" y2="391.5" stroke="#fff" stroke-width="1.5" />
<line x1="1058" y1="386.5" x2="1058" y2="391.5" stroke="#fff" stroke-width="1.5" />
<line x1="1065.6" y1="386.5" x2="1065.6" y2="391.5" stroke="#fff" stroke-width="1.5" />
<line x1="1073.2" y1="386.5" x2="1073.2" y2="391.5" stroke="#fff" stroke-width="1.5" />
<line x1="1080.8" y1="386.5" x2="1080.8" y2="391.5" stroke="#fff" stroke-width="1.5" />
<line x1="1096" y1="386.5" x2="1096" y2="391.5" stroke="#fff" stroke-width="1.5" />
<line x1="1103.6" y1="386.5" x2="1103.6" y2="391.5" stroke="#fff" stroke-width="1.5" />
<line x1="1111.2" y1="386.5" x2="1111.2" y2="391.5" stroke="#fff" stroke-width="1.5" />
<line x1="1118.8" y1="386.5" x2="1118.8" y2="391.5" stroke="#fff" stroke-width="1.5" />
<line x1="860.4" y1="381" x2="860.4" y2="391.5" stroke="#fff" stroke-width="1.6" />
<line x1="898.4" y1="381" x2="898.4" y2="391.5" stroke="#fff" stroke-width="1.6" />
<line x1="936.4" y1="381" x2="936.4" y2="391.5" stroke="#fff" stroke-width="1.6" />
<line x1="974.4" y1="381" x2="974.4" y2="391.5" stroke="#fff" stroke-width="1.6" />
<line x1="1012.4" y1="381" x2="1012.4" y2="391.5" stroke="#fff" stroke-width="1.6" />
<line x1="1050.4" y1="381" x2="1050.4" y2="391.5" stroke="#fff" stroke-width="1.6" />
<line x1="1088.4" y1="381" x2="1088.4" y2="391.5" stroke="#fff" stroke-width="1.6" />
<line x1="1126.4" y1="381" x2="1126.4" y2="391.5" stroke="#fff" stroke-width="1.6" />
<text x="825.6" y="89.2" font-size="12" font-weight="normal" fill="#231f20" stroke="#231f20" stroke-width="0.34" text-anchor="start" textLength="16.8" lengthAdjust="spacingAndGlyphs" >2.5</text>
<text x="825.6" y="148" font-size="12" font-weight="normal" fill="#231f20" stroke="#231f20" stroke-width="0.34" text-anchor="start" textLength="16.8" lengthAdjust="spacingAndGlyphs" >2.0</text>
<text x="825.6" y="206" font-size="12" font-weight="normal" fill="#231f20" stroke="#231f20" stroke-width="0.34" text-anchor="start" textLength="16.8" lengthAdjust="spacingAndGlyphs" >1.5</text>
<text x="825.6" y="265.2" font-size="12" font-weight="normal" fill="#231f20" stroke="#231f20" stroke-width="0.34" text-anchor="start" textLength="16.8" lengthAdjust="spacingAndGlyphs" >1.0</text>
<text x="825.6" y="324" font-size="12" font-weight="normal" fill="#231f20" stroke="#231f20" stroke-width="0.34" text-anchor="start" textLength="16.8" lengthAdjust="spacingAndGlyphs" >0.5</text>
<text x="825.6" y="381.6" font-size="12" font-weight="normal" fill="#231f20" stroke="#231f20" stroke-width="0.34" text-anchor="start" textLength="16.8" lengthAdjust="spacingAndGlyphs" >0.0</text>
<text x="854" y="411.7" font-size="14" font-weight="normal" fill="#231f20" stroke="#231f20" stroke-width="0.15" text-anchor="start" textLength="7.2" lengthAdjust="spacingAndGlyphs" >0</text>
<text x="887" y="411.7" font-size="14" font-weight="normal" fill="#231f20" stroke="#231f20" stroke-width="0.15" text-anchor="start" textLength="22.8" lengthAdjust="spacingAndGlyphs" >100</text>
<text x="925" y="411.7" font-size="14" font-weight="normal" fill="#231f20" stroke="#231f20" stroke-width="0.15" text-anchor="start" textLength="22.8" lengthAdjust="spacingAndGlyphs" >200</text>
<text x="963" y="411.7" font-size="14" font-weight="normal" fill="#231f20" stroke="#231f20" stroke-width="0.15" text-anchor="start" textLength="22.8" lengthAdjust="spacingAndGlyphs" >300</text>
<text x="1001" y="411.7" font-size="14" font-weight="normal" fill="#231f20" stroke="#231f20" stroke-width="0.15" text-anchor="start" textLength="22.8" lengthAdjust="spacingAndGlyphs" >400</text>
<text x="1039" y="411.7" font-size="14" font-weight="normal" fill="#231f20" stroke="#231f20" stroke-width="0.15" text-anchor="start" textLength="22.8" lengthAdjust="spacingAndGlyphs" >500</text>
<text x="1077" y="411.7" font-size="14" font-weight="normal" fill="#231f20" stroke="#231f20" stroke-width="0.15" text-anchor="start" textLength="22.8" lengthAdjust="spacingAndGlyphs" >600</text>
<text x="1115" y="411.7" font-size="14" font-weight="normal" fill="#231f20" stroke="#231f20" stroke-width="0.15" text-anchor="start" textLength="22.8" lengthAdjust="spacingAndGlyphs" >700</text>
<text x="980.8" y="436.6" font-size="15" font-weight="bold" fill="#231f20" stroke="#231f20" stroke-width="0.42" text-anchor="start" textLength="27.3" lengthAdjust="spacingAndGlyphs" >CFM</text>
<text transform="translate(818,251.6) rotate(-90)" font-size="13" font-weight="bold" fill="#231f20" textLength="37.8" lengthAdjust="spacingAndGlyphs">inH<tspan font-size="9">2</tspan>O</text>
<path d="M861.6,158 C863.39,159.52 872.16,167.3 877.7,171.7 C883.24,176.1 904.17,191.94 911.5,197.6 C918.83,203.26 938,217.54 943.7,222.6 C949.4,227.66 957.08,236.63 962.8,243.1 C968.52,249.57 988.9,273.34 995.2,280.8 C1001.5,288.26 1013.04,303.4 1019.5,310.2 C1025.96,317 1044.86,334.47 1053.3,342 C1061.74,349.53 1090.81,374 1095.5,378" stroke="#999999" stroke-width="4.3" fill="none" stroke-linecap="round"/>
<path d="M865.5,84.2 C866.94,86.79 872.58,99.06 878.5,107.5 C884.42,115.94 910.74,150.42 918.8,160.2 C926.86,169.98 944.38,187.38 951,195.5 C957.62,203.62 971.76,224.28 978.4,233.3 C985.04,242.32 1003.73,268.09 1010.8,276.7 C1017.87,285.31 1034.81,303.88 1042,310.8 C1049.19,317.72 1066.89,331.59 1075.5,339 C1084.11,346.41 1114.61,373.22 1119.5,377.5" stroke="#17a5df" stroke-width="4.3" fill="none" stroke-linecap="round"/>
<circle cx="861.6" cy="158" r="3" stroke="#231f20" stroke-width="0" fill="#231815" />
<circle cx="877.7" cy="171.7" r="3" stroke="#231f20" stroke-width="0" fill="#231815" />
<circle cx="911.5" cy="197.6" r="3" stroke="#231f20" stroke-width="0" fill="#231815" />
<circle cx="943.7" cy="222.6" r="3" stroke="#231f20" stroke-width="0" fill="#231815" />
<circle cx="962.8" cy="243.1" r="3" stroke="#231f20" stroke-width="0" fill="#231815" />
<circle cx="995.2" cy="280.8" r="3" stroke="#231f20" stroke-width="0" fill="#231815" />
<circle cx="1019.5" cy="310.2" r="3" stroke="#231f20" stroke-width="0" fill="#231815" />
<circle cx="1053.3" cy="342" r="3" stroke="#231f20" stroke-width="0" fill="#231815" />
<circle cx="1095.5" cy="378" r="3" stroke="#231f20" stroke-width="0" fill="#231815" />
<path d="M862.3,81 L868.7,87.4 M868.7,81 L862.3,87.4" stroke="#231815" stroke-width="2.0" fill="none" />
<path d="M875.3,104.3 L881.7,110.7 M881.7,104.3 L875.3,110.7" stroke="#231815" stroke-width="2.0" fill="none" />
<path d="M915.6,157 L922,163.4 M922,157 L915.6,163.4" stroke="#231815" stroke-width="2.0" fill="none" />
<path d="M947.8,192.3 L954.2,198.7 M954.2,192.3 L947.8,198.7" stroke="#231815" stroke-width="2.0" fill="none" />
<path d="M975.2,230.1 L981.6,236.5 M981.6,230.1 L975.2,236.5" stroke="#231815" stroke-width="2.0" fill="none" />
<path d="M1007.6,273.5 L1014,279.9 M1014,273.5 L1007.6,279.9" stroke="#231815" stroke-width="2.0" fill="none" />
<path d="M1038.8,307.6 L1045.2,314 M1045.2,307.6 L1038.8,314" stroke="#231815" stroke-width="2.0" fill="none" />
<path d="M1072.3,335.8 L1078.7,342.2 M1078.7,335.8 L1072.3,342.2" stroke="#231815" stroke-width="2.0" fill="none" />
<path d="M1116.3,374.3 L1122.7,380.7 M1122.7,374.3 L1116.3,380.7" stroke="#231815" stroke-width="2.0" fill="none" />
<line x1="1018" y1="58.7" x2="1030" y2="58.7" stroke="#17a5df" stroke-width="4.2" />
<path d="M1028.6,55.6 L1034.8,61.8 M1034.8,55.6 L1028.6,61.8" stroke="#231815" stroke-width="2.0" fill="none" />
<text x="1037.3" y="62.9" font-size="12.6" font-weight="normal" fill="#231f20" stroke="#231f20" stroke-width="0.35" text-anchor="start" textLength="33" lengthAdjust="spacingAndGlyphs" >60Hz</text>
<line x1="1081.6" y1="58.7" x2="1095" y2="58.7" stroke="#999999" stroke-width="4.2" />
<circle cx="1096" cy="58.7" r="3" stroke="#231f20" stroke-width="0" fill="#231815" />
<text x="1102" y="62.9" font-size="12.6" font-weight="normal" fill="#231f20" stroke="#231f20" stroke-width="0.35" text-anchor="start" textLength="32.4" lengthAdjust="spacingAndGlyphs" >50Hz</text>
</svg></body></html>
